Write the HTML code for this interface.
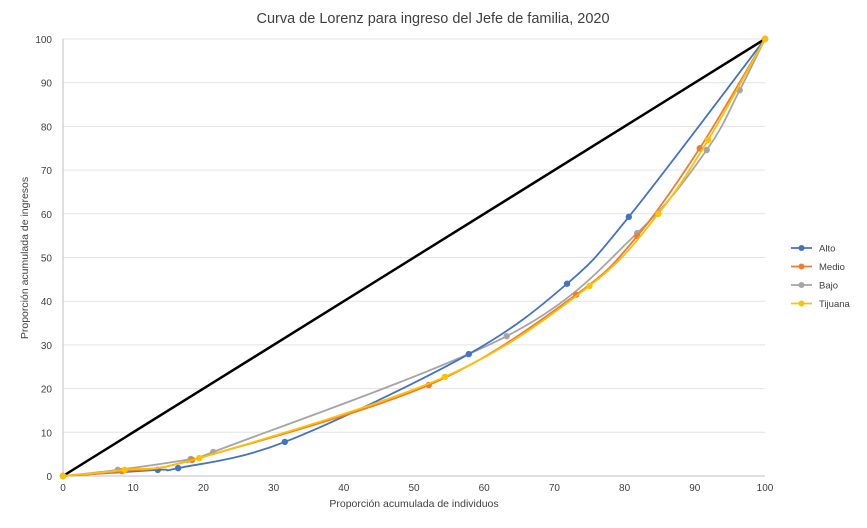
<!DOCTYPE html>
<html><head><meta charset="utf-8"><style>
body{margin:0;background:#fff;font-family:"Liberation Sans",sans-serif}
svg text{font-family:"Liberation Sans",sans-serif}
</style></head><body>
<svg id="chart" width="867" height="523">
<text x="433" y="23" text-anchor="middle" font-size="14.5" fill="#404040">Curva de Lorenz para ingreso del Jefe de familia, 2020</text>
<g id="grid"></g><g id="axes"></g><g id="series"></g><g id="legend"></g>
<text x="414" y="507" text-anchor="middle" font-size="10.5" fill="#404040">Proporción acumulada de individuos</text>
<text transform="translate(28,258) rotate(-90)" text-anchor="middle" font-size="10.5" fill="#404040">Proporción acumulada de ingresos</text>
</svg>
<script>
const xTicks=[0,10,20,30,40,50,60,70,80,90,100];
const yTicks=[0,10,20,30,40,50,60,70,80,90,100];
const seriesNames=["Alto","Medio","Bajo","Tijuana"];
const seriesColors=["#4472c4","#ed7d31","#a5a5a5","#ffc000"];
const altoX=[0,13.5,16.4,31.6,57.8,71.8,80.6,100];
const altoY=[0,1.4,1.8,7.8,27.9,44,59.3,100];
const medioX=[0,8.4,18.4,52.1,73.1,81.8,90.7,100];
const medioY=[0,1.1,3.7,20.8,41.5,54.9,75,100];
const bajoX=[0,7.8,18.2,21.4,63.2,81.8,91.7,96.4,100];
const bajoY=[0,1.4,3.9,5.5,32,55.6,74.6,88.3,100];
const tijX=[0,8.8,19.4,54.4,75,84.8,91.9,100];
const tijY=[0,1.4,4.1,22.7,43.5,60,76.9,100];
const equalX=[0,100], equalY=[0,100];
const sx=v=>63+7.02*v, sy=v=>476-4.37*v;
const NS="http://www.w3.org/2000/svg";
function mk(t,a,p){const e=document.createElementNS(NS,t);for(const k in a)e.setAttribute(k,a[k]);p.appendChild(e);return e;}
const grid=document.getElementById('grid'),axes=document.getElementById('axes');
yTicks.forEach(v=>{
 const l=mk('line',{x1:63,x2:765,y1:sy(v),y2:sy(v),stroke:v===0?'#bfbfbf':'#e3e3e3','stroke-width':1},grid);
 
 
 const t=mk('text',{x:52,y:sy(v)+4,'text-anchor':'end','font-size':10,fill:'#404040'},axes);t.textContent=v;
 
 
});
const ya=mk('line',{x1:63,x2:63,y1:39,y2:476,stroke:'#bfbfbf'},axes);


xTicks.forEach(v=>{
 const t=mk('text',{x:sx(v),y:491,'text-anchor':'middle','font-size':10,fill:'#404040'},axes);t.textContent=v;
 
 
});
const eq=mk('line',{x1:sx(equalX[0]),y1:sy(equalY[0]),x2:sx(equalX[1]),y2:sy(equalY[1]),stroke:'#000','stroke-width':2.5},document.getElementById('series'));


function smooth(P){let d=`M${P[0][0]},${P[0][1]}`;const s=0.18*3/3;
 for(let i=0;i<P.length-1;i++){const p0=P[i-1]||P[i],p1=P[i],p2=P[i+1],p3=P[i+2]||p2;
  const c1=[p1[0]+(p2[0]-p0[0])/6,p1[1]+(p2[1]-p0[1])/6],c2=[p2[0]-(p3[0]-p1[0])/6,p2[1]-(p3[1]-p1[1])/6];
  d+=` C${c1[0]},${c1[1]} ${c2[0]},${c2[1]} ${p2[0]},${p2[1]}`;}return d;}
const all=[[altoX,altoY],[medioX,medioY],[bajoX,bajoY],[tijX,tijY]];
const sg=document.getElementById('series');
[2,0,1,3].forEach(i=>{
 const [X,Y]=all[i];const P=X.map((x,j)=>[sx(x),sy(Y[j])]);
 const path=mk('path',{d:smooth(P),fill:'none',stroke:seriesColors[i],'stroke-width':1.8},sg);
 
 
 P.forEach(p=>{const c=mk('circle',{cx:p[0],cy:p[1],r:3.2,fill:seriesColors[i]},sg);
  
  });
});
const lg=document.getElementById('legend');
seriesNames.forEach((n,i)=>{const y=248+i*18.5;
 const g=mk('g',{},lg);
 
 
 mk('line',{x1:791,x2:812,y1:y,y2:y,stroke:seriesColors[i],'stroke-width':1.8},g);
 mk('circle',{cx:801.5,cy:y,r:3,fill:seriesColors[i]},g);
 const t=mk('text',{x:819,y:y+3.5,'font-size':9.5,fill:'#404040'},g);t.textContent=n;});
</script>
</body></html>
